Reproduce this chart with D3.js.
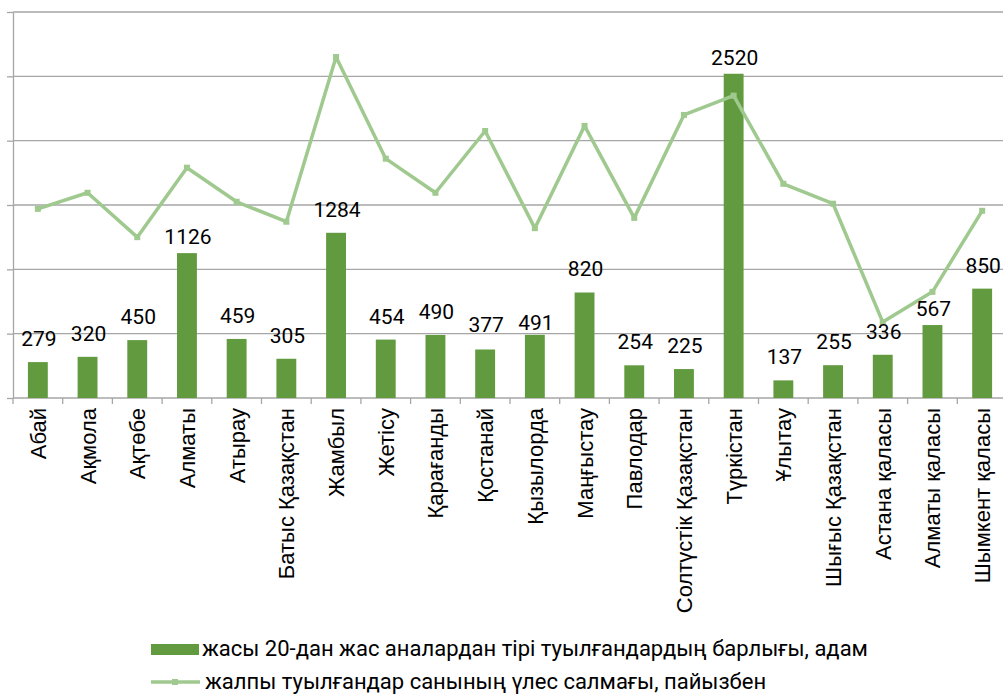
<!DOCTYPE html>
<html>
<head>
<meta charset="utf-8">
<script src="https://cdn.jsdelivr.net/npm/d3@7"></script>
<style>
  body { margin: 0; background: #fff; }
  svg { display: block; }
</style>
</head>
<body>
<div id="chart"></div>
<script>
// regions (x axis)
var regions = ["Абай", "Ақмола", "Ақтөбе", "Алматы", "Атырау", "Батыс Қазақстан",
    "Жамбыл", "Жетісу", "Қарағанды", "Қостанай", "Қызылорда", "Маңғыстау",
    "Павлодар", "Солтүстік Қазақстан", "Түркістан", "Ұлытау", "Шығыс Қазақстан",
    "Астана қаласы", "Алматы қаласы", "Шымкент қаласы"]

// births to mothers under 20, persons
var births = [279, 320, 450, 1126, 459, 305, 1284, 454, 490, 377, 491, 820,
    254, 225, 2520, 137, 255, 336, 567, 850]

// share of all births, percent (secondary axis, not shown)
var share = [2.94, 3.19, 2.50, 3.58, 3.05, 2.74, 5.30, 3.72, 3.19, 4.15, 2.64, 4.23,
    2.80, 4.40, 4.70, 3.33, 3.02, 1.18, 1.65, 2.91]

var yTicks = [0, 500, 1000, 1500, 2000, 2500, 3000]

var legendNames = ["жасы 20-дан жас аналардан тірі туылғандардың барлығы, адам",
    "жалпы туылғандар санының үлес салмағы, пайызбен"]

var width = 1003, height = 695
var margin = {top: 12, right: -4, bottom: 297, left: 13}

var barColor = "#629b3f"
var lineColor = "#9fc98e"
var gridColor = "#a6a6a6"

var rows = regions.map((r, i) => ({region: r, births: births[i], share: share[i]}))

var svg = d3.select("#chart").append("svg")
    .attr("width", width)
    .attr("height", height)

var x = d3.scaleBand()
    .domain(regions)
    .range([margin.left, width - margin.right])
    .paddingInner(0.6)
    .paddingOuter(0.3)

var y = d3.scaleLinear()
    .domain([0, 3000])
    .range([height - margin.bottom, margin.top])

var y2 = d3.scaleLinear()
    .domain([0, 6])
    .range([height - margin.bottom, margin.top])

// gridlines
svg.append("g")
    .selectAll("line")
    .data(yTicks.slice(1))
    .join("line")
    .attr("x1", margin.left)
    .attr("x2", width)
    .attr("y1", d => y(d))
    .attr("y2", d => y(d))
    .attr("stroke", gridColor)
    .attr("stroke-width", 1.3)

// left axis (no labels)
svg.append("g")
    .attr("transform", `translate(${margin.left},0)`)
    .call(d3.axisLeft(y).tickValues(yTicks).tickFormat("").tickSize(6).tickSizeOuter(0))
    .call(g => g.selectAll("line, path").attr("stroke", gridColor).attr("stroke-width", 1.3))

// bottom axis with ticks between categories
var half = (x.step() - x.bandwidth()) / 2
var bounds = regions.map(r => x(r) - half).concat([x(regions[regions.length - 1]) + x.bandwidth() + half])
var xAxis = svg.append("g")
xAxis.append("line")
    .attr("x1", margin.left).attr("x2", width)
    .attr("y1", y(0)).attr("y2", y(0))
    .attr("stroke", gridColor).attr("stroke-width", 1.3)
xAxis.selectAll(".tk")
    .data(bounds)
    .join("line")
    .attr("class", "tk")
    .attr("x1", d => d).attr("x2", d => d)
    .attr("y1", y(0)).attr("y2", y(0) + 6)
    .attr("stroke", gridColor).attr("stroke-width", 1.3)

xAxis.selectAll("text")
    .data(regions)
    .join("text")
    .attr("transform", d => `translate(${x(d) + x.bandwidth() / 2 + 8},${y(0) + 10}) rotate(-90)`)
    .attr("text-anchor", "end")
    .attr("font-family", "Liberation Sans, Arial, sans-serif")
    .attr("font-size", 22)
    .attr("fill", "#000")
    .text(d => d)

// bars
svg.append("g")
    .selectAll("rect")
    .data(rows)
    .join("rect")
    .attr("x", d => x(d.region))
    .attr("y", d => y(d.births))
    .attr("width", x.bandwidth())
    .attr("height", d => y(0) - y(d.births))
    .attr("fill", barColor)

// line series
var line = d3.line()
    .x(d => x(d.region) + x.bandwidth() / 2)
    .y(d => y2(d.share))

svg.append("path")
    .datum(rows)
    .attr("fill", "none")
    .attr("stroke", lineColor)
    .attr("stroke-width", 3.5)
    .attr("stroke-linejoin", "round")
    .attr("d", line)

svg.append("g")
    .selectAll("rect")
    .data(rows)
    .join("rect")
    .attr("x", d => x(d.region) + x.bandwidth() / 2 - 3)
    .attr("y", d => y2(d.share) - 3)
    .attr("width", 6)
    .attr("height", 6)
    .attr("fill", lineColor)

// value labels (some sit closer to the bar top, as in the source)
var labelGap = {"Алматы": 9, "Түркістан": 9, "Алматы қаласы": 9, "Қызылорда": 5, "Қостанай": 17}

svg.append("g")
    .selectAll("text")
    .data(rows)
    .join("text")
    .attr("x", d => x(d.region) + x.bandwidth() / 2 + 1)
    .attr("y", d => y(d.births) - (labelGap[d.region] || 16))
    .attr("text-anchor", "middle")
    .attr("font-family", "Roboto, sans-serif")
    .attr("font-size", 21)
    .attr("fill", "#000")
    .text(d => d.births)

// legend
var legend = svg.append("g")
    .attr("font-family", "Roboto, sans-serif")
    .attr("font-size", 22)

legend.append("rect")
    .attr("x", 151).attr("y", 644)
    .attr("width", 48).attr("height", 11)
    .attr("fill", barColor)
legend.append("text")
    .attr("x", 202).attr("y", 656)
    .text(legendNames[0])

legend.append("line")
    .attr("x1", 151).attr("x2", 200)
    .attr("y1", 682).attr("y2", 682)
    .attr("stroke", lineColor).attr("stroke-width", 3.5)
legend.append("rect")
    .attr("x", 172).attr("y", 679)
    .attr("width", 6).attr("height", 6)
    .attr("fill", lineColor)
legend.append("text")
    .attr("x", 205).attr("y", 689)
    .text(legendNames[1])
</script>
</body>
</html>
